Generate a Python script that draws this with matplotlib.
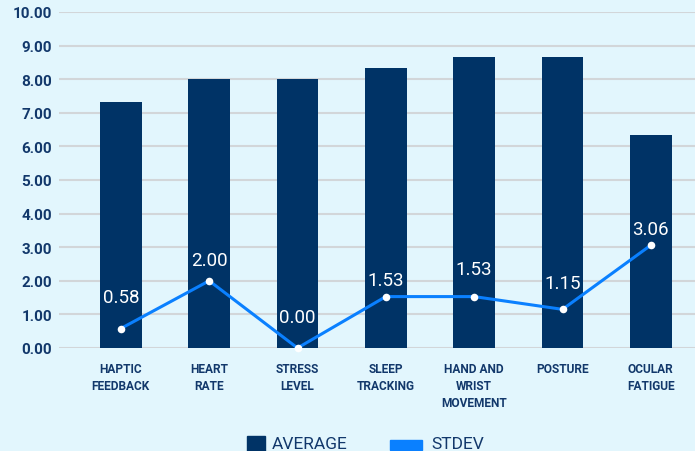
import matplotlib
matplotlib.use("Agg")
import matplotlib.pyplot as plt
from matplotlib.patches import Rectangle
import numpy as np

categories = ["HAPTIC\nFEEDBACK", "HEART\nRATE", "STRESS\nLEVEL", "SLEEP\nTRACKING",
              "HAND AND\nWRIST\nMOVEMENT", "POSTURE", "OCULAR\nFATIGUE"]
average = [7.33, 8.00, 8.00, 8.33, 8.67, 8.67, 6.33]
stdev = [0.58, 2.00, 0.00, 1.53, 1.53, 1.15, 3.06]
y_ticks = [0, 1, 2, 3, 4, 5, 6, 7, 8, 9, 10]
series_names = ["AVERAGE", "STDEV"]

BG = "#E2F6FD"
BAR = "#003366"
LINE = "#0A80FF"
TEXT = "#12386B"
GRID = "#D2D6D9"

plt.rcParams["font.family"] = ["Roboto", "DejaVu Sans"]

W, H = 695, 452
fig = plt.figure(figsize=(W / 100, H / 100), dpi=100, facecolor=BG)
ax = fig.add_axes([59 / W, (H - 349) / H, 1 - 59 / W, (349 - 13) / H])
ax.set_facecolor(BG)

x = np.arange(len(categories))
ax.bar(x, average, width=0.47, color=BAR, zorder=2)
ax.plot(x, stdev, color=LINE, lw=2.2, zorder=3, clip_on=False)
ax.scatter(x, stdev, s=30, color="white", zorder=4, clip_on=False, linewidths=0)

# label offsets above each point, in points
offsets = [23, 15, 22, 12, 20, 19, 12]
for xi, v, off in zip(x, stdev, offsets):
    ax.annotate(f"{v:.2f}", (xi, v), xytext=(0, off), textcoords="offset points",
                ha="center", va="center", color="white", fontsize=13.5, zorder=5)

ax.set_xlim(-0.70, 6.5)
ax.set_ylim(0, 10)
ax.set_yticks(y_ticks)
ax.set_yticklabels([f"{t:.2f}" for t in y_ticks], fontsize=11, fontweight="bold", color=TEXT)
ax.set_xticks(x)
ax.set_xticklabels(categories, fontsize=8.6, fontweight="bold", color=TEXT,
                   linespacing=1.4, va="top")
ax.tick_params(axis="both", length=0)
ax.tick_params(axis="x", pad=10)
ax.tick_params(axis="y", pad=5)
ax.grid(axis="y", color=GRID, lw=1.5, zorder=0)
ax.set_axisbelow(True)
for s in ax.spines.values():
    s.set_visible(False)

# legend drawn in figure pixel coordinates
def px(xp, yp):
    return xp / W, 1 - yp / H

fig.patches.append(Rectangle(px(247, 455), 18 / W, 18 / H, transform=fig.transFigure,
                             color=BAR, clip_on=False))
fig.patches.append(Rectangle(px(390, 451), 32 / W, 10 / H, transform=fig.transFigure,
                             color=LINE, clip_on=False))
fig.text(*px(272, 445), series_names[0], ha="left", va="center", fontsize=12.5, color=TEXT)
fig.text(*px(431, 445), series_names[1], ha="left", va="center", fontsize=12.5, color=TEXT)

fig.savefig("out.png", dpi=100, facecolor=BG)
